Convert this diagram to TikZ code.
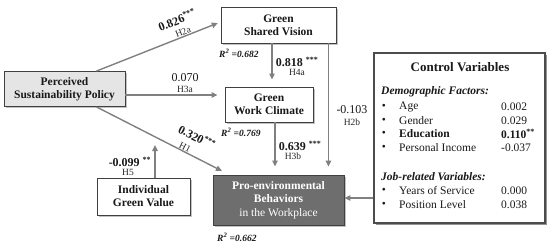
\documentclass[tikz,border=0pt]{standalone}
\usepackage{fontspec}
\setmainfont{Liberation Serif}
\usetikzlibrary{arrows.meta, shadows}

\begin{document}
\begin{tikzpicture}[x=1pt,y=-1pt,
  box/.style={draw=black!75, line width=0.9pt, fill=white, text=black!90, align=center, inner sep=0pt,
    font=\bfseries\fontsize{11.5}{13}\selectfont,
    drop shadow={shadow xshift=1.5pt, shadow yshift=-1.5pt, opacity=0.4, fill=black!60}},
  path/.style={draw=black!50, line width=1.4pt, -{Triangle[length=6pt,width=5.5pt]}},
  coef/.style={text=black!90, inner sep=0pt, font=\bfseries\fontsize{12}{12}\selectfont},
  coefr/.style={text=black!90, inner sep=0pt, font=\fontsize{12}{12}\selectfont},
  hyp/.style={text=black!85, inner sep=0pt, font=\fontsize{9.5}{9.5}\selectfont},
  rsq/.style={text=black!90, inner sep=0pt, anchor=west, font=\bfseries\itshape\fontsize{9.5}{9.5}\selectfont},
  ctext/.style={text=black!90, inner sep=0pt, font=\fontsize{11.5}{11.5}\selectfont}]
\useasboundingbox (0,0) rectangle (550,244);

\node[box, fill=black!10, minimum width=121pt, minimum height=35pt] (psp) at (64.5,89) {Perceived\\Sustainability Policy};
\node[box, minimum width=115pt, minimum height=36pt] (gsv) at (278.5,25) {Green\\Shared Vision};
\node[box, minimum width=88pt, minimum height=35pt] (gwc) at (269,104.5) {Green\\Work Climate};
\node[box, fill=black!57, text=white, minimum width=131pt, minimum height=50pt, font=\bfseries\fontsize{11.5}{13.5}\selectfont] (peb) at (278.5,200) {Pro-environmental\\Behaviors\\{\mdseries in the Workplace}};
\node[box, minimum width=93pt, minimum height=37pt] (igv) at (143.5,196.5) {Individual\\Green Value};
\node[box, draw=black!70, line width=1.8pt, minimum width=171pt, minimum height=170pt,
  drop shadow={shadow xshift=2pt, shadow yshift=-2pt, opacity=0.5, fill=black!60}] (ctrl) at (459.5,138) {};

\coordinate (psp-n) at ([xshift=32pt]psp.north);
\coordinate (psp-e) at ([yshift=-6pt]psp.east);
\coordinate (psp-s) at ([xshift=32pt]psp.south);
\coordinate (gsv-b) at ([xshift=-6.5pt]gsv.south);
\coordinate (gsv-r) at ([xshift=-8pt]gsv.south east);
\coordinate (gwc-b) at ([xshift=6pt]gwc.south);
\coordinate (h1end) at (222,171);
\coordinate (mod) at (155,145);

\draw[path, shorten >=3pt] (psp-n) -- ([yshift=3pt]gsv.west);
\draw[path, shorten >=7pt] (psp-e) -- (psp-e -| gwc.west);
\draw[path] (psp-s) -- (h1end);
\draw[path, shorten >=7pt] (gsv-b) -- (gsv-b |- gwc.north);
\draw[path, shorten >=8pt] (gwc-b) -- (gwc-b |- peb.north);
\draw[path, shorten >=8pt] (gsv-r) -- (gsv-r |- peb.north);
\draw[path] (igv.north -| mod) -- (mod);
\draw[path] ([yshift=2pt]ctrl.west |- peb.east) -- ([yshift=2pt]peb.east);

\node[coef, rotate=21.6] (b2a) at (177,20) {0.826\textsuperscript{***}};
\node[hyp, rotate=21.6] (h2a) at (183,32) {H2a};
\node[coefr] (b3a) at (185,78) {0.070};
\node[hyp] (h3a) at (185,89) {H3a};
\node[coef, rotate=-27] (b1) at (197,137) {0.320\textsuperscript{***}};
\node[hyp, rotate=-27] (h1) at (185,147) {H1};
\node[coef] (b4a) at (297,62) {0.818 \textsuperscript{***}};
\node[hyp] (h4a) at (297,72) {H4a};
\node[coef] (b3b) at (300,146) {0.639 \textsuperscript{***}};
\node[hyp] (h3b) at (293,156) {H3b};
\node[coefr] (b2b) at (352,110) {-0.103};
\node[hyp] (h2b) at (352,122) {H2b};
\node[coef] (b5) at (130,162) {-0.099 \textsuperscript{**}};
\node[hyp] (h5) at (128,172) {H5};

\node[rsq] (r2gsv) at (219,53) {R\textsuperscript{2} =0.682};
\node[rsq] (r2gwc) at (221,132) {R\textsuperscript{2} =0.769};
\node[rsq] (r2peb) at (217,237) {R\textsuperscript{2} =0.662};

\node[ctext, font=\bfseries\fontsize{13}{13}\selectfont] (ctitle) at (460,67) {Control Variables};
\node[ctext, anchor=west, font=\bfseries\itshape\fontsize{11.5}{11.5}\selectfont] (demo) at (381,92) {Demographic Factors:};
\node[ctext, anchor=west, font=\bfseries\itshape\fontsize{11.5}{11.5}\selectfont] (job) at (381,177) {Job-related Variables:};
\foreach \y/\nm/\val in {107/Age/0.002, 121/Gender/0.029, 148/Personal Income/-0.037, 191/Years of Service/0.000, 205/Position Level/0.038}{
  \node[ctext] (bul\y) at (384,\y) {•};
  \node[ctext, anchor=west] (itm\y) at (399,\y) {\nm};
  \node[ctext, anchor=west] (val\y) at (501,\y) {\val};
}
\node[ctext] (bul134) at (384,134) {•};
\node[ctext, anchor=west, font=\bfseries\fontsize{11.5}{11.5}\selectfont] (itm134) at (399,134) {Education};
\node[ctext, anchor=west, font=\bfseries\fontsize{11.5}{11.5}\selectfont] (val134) at (501,134) {0.110\textsuperscript{**}};
\end{tikzpicture}
\end{document}
